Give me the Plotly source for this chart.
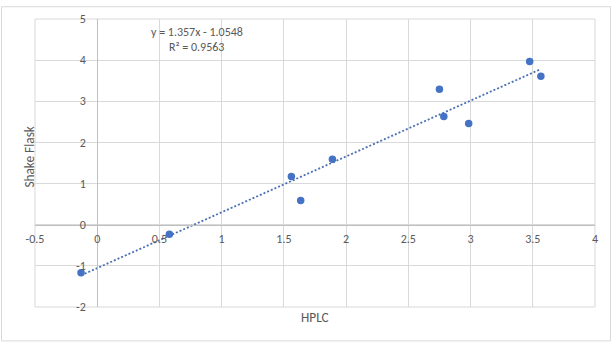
import plotly.graph_objects as go

# Data
hplc = [-0.13, 0.58, 1.56, 1.635, 1.89, 2.75, 2.785, 2.985, 3.475, 3.565]
shake_flask = [-1.17, -0.23, 1.17, 0.59, 1.59, 3.29, 2.63, 2.46, 3.97, 3.61]
trend_slope = 1.357
trend_intercept = -1.0548
r_squared = 0.9563
x_ticks = [-0.5, 0, 0.5, 1, 1.5, 2, 2.5, 3, 3.5, 4]
y_ticks = [-2, -1, 0, 1, 2, 3, 4, 5]
x_title = "HPLC"
y_title = "Shake Flask"

W, H = 613, 343
ML, MR, MT, MB = 35, 18, 14, 36
FONT = "Calibri, Carlito, Lato, sans-serif"
GRAY_TXT = "#595959"
GRID = "#D9D9D9"
AXIS = "#BFBFBF"
BLUE = "#4472C4"

x0, x1 = x_ticks[0], x_ticks[-1]
y0, y1 = y_ticks[0], y_ticks[-1]
PW, PH = W - ML - MR, H - MT - MB

tx = [min(hplc), max(hplc)]
ty = [trend_slope * v + trend_intercept for v in tx]

fig = go.Figure()
fig.add_trace(go.Scatter(
    x=tx, y=ty, mode="lines",
    line=dict(color="#4A6FB5", width=1.8, dash="2px,2px"),
    hoverinfo="skip", showlegend=False,
))
fig.add_trace(go.Scatter(
    x=hplc, y=shake_flask, mode="markers",
    marker=dict(color=BLUE, size=7.5, line=dict(width=0)),
    showlegend=False,
))

sign = "-" if trend_intercept < 0 else "+"
eq = f"y = {trend_slope}x {sign} {abs(trend_intercept)}"
r2 = f"R² = {r_squared}"

fig.update_layout(
    width=W, height=H,
    margin=dict(l=ML, r=MR, t=MT, b=MB, pad=0),
    paper_bgcolor="white", plot_bgcolor="white",
    font=dict(family=FONT, size=12, color=GRAY_TXT),
    xaxis=dict(
        range=[x0, x1], tickvals=x_ticks, ticktext=[f"{v:g}" for v in x_ticks],
        showgrid=True, gridcolor=GRID, gridwidth=1, zeroline=False,
        showline=True, linecolor=AXIS, linewidth=1,
        anchor="free", position=(0 - y0) / (y1 - y0),
        ticks="", ticklabelstandoff=3,
        tickfont=dict(family=FONT, size=12, color=GRAY_TXT),
    ),
    yaxis=dict(
        range=[y0, y1], tickvals=y_ticks, ticktext=[f"{v:g}" for v in y_ticks],
        showgrid=True, gridcolor=GRID, gridwidth=1, zeroline=False,
        showline=True, linecolor=AXIS, linewidth=1,
        anchor="free", position=(0 - x0) / (x1 - x0),
        ticks="", ticklabelstandoff=9,
        tickfont=dict(family=FONT, size=12, color=GRAY_TXT),
    ),
    shapes=[
        dict(type="rect", xref="paper", yref="paper", x0=0, x1=1, y0=0, y1=1,
             line=dict(color=GRID, width=1), layer="below"),
        dict(type="rect", xref="paper", yref="paper",
             x0=(1.5 - ML) / PW, x1=(610.5 - ML) / PW,
             y0=-(341.5 - (H - MB)) / PH, y1=1 + (MT - 1.5) / PH,
             line=dict(color=GRID, width=1)),
    ],
    annotations=[
        dict(x=0.80, y=4.68, xref="x", yref="y", text=eq, showarrow=False,
             font=dict(family=FONT, size=12, color=GRAY_TXT)),
        dict(x=0.80, y=4.32, xref="x", yref="y", text=r2, showarrow=False,
             font=dict(family=FONT, size=12, color=GRAY_TXT)),
        dict(x=(315 - ML) / PW, y=-(317.5 - (H - MB)) / PH, xref="paper", yref="paper",
             text=x_title, showarrow=False, xanchor="center", yanchor="middle",
             font=dict(family=FONT, size=13.3, color=GRAY_TXT)),
        dict(x=(30 - ML) / PW, y=((H - MB) - 155) / PH, xref="paper", yref="paper",
             text=y_title, showarrow=False, textangle=-90,
             xanchor="center", yanchor="middle",
             font=dict(family=FONT, size=13.3, color=GRAY_TXT)),
    ],
)

fig.write_html("out.html")
